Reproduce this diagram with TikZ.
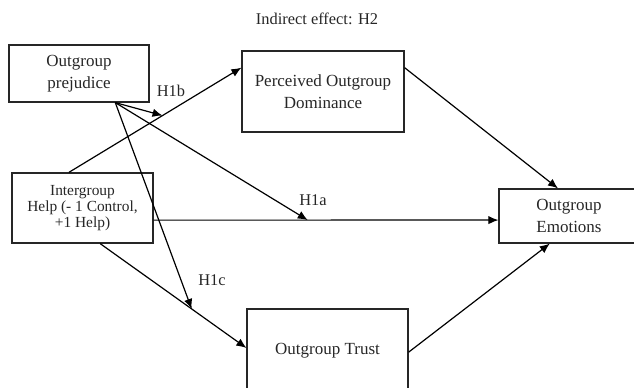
\documentclass[tikz,border=0pt]{standalone}
\usepackage{fontspec}
\setmainfont{Liberation Serif}
\usetikzlibrary{calc,arrows.meta}
\begin{document}
\begin{tikzpicture}[x=0.5pt,y=-0.5pt,
  box/.style={draw=black!85,line width=0.6pt,inner sep=0pt,align=center,font=\fontsize{8.5}{10.75}\selectfont,text=black!85},
  conn/.style={line width=0.6pt,-{Latex[length=5pt,width=4.2pt]}},
  lbl/.style={font=\fontsize{8.2}{10}\selectfont,text=black!85,inner sep=0pt}]
\useasboundingbox (0,0) rectangle (634,387);
\clip (0,0) rectangle (634,387);
\node[box,minimum width=70pt,minimum height=28.5pt] (prej) at (79,73.5) {Outgroup\\prejudice};
\node[box,minimum width=70.5pt,minimum height=35pt,font=\fontsize{7.7}{7.9}\selectfont] (help) at (82.5,208) {Intergroup\\Help (- 1 Control,\\+1 Help)};
\node[box,minimum width=81pt,minimum height=40.5pt] (dom) at (323,91.5) {Perceived Outgroup\\Dominance};
\node[box,minimum width=70pt,minimum height=27pt] (emo) at (569,216) {Outgroup\\Emotions};
\node[box,minimum width=80.5pt,minimum height=41.5pt] (trust) at (327.5,350.5) {Outgroup Trust};
\node[lbl] (title) at (317,19) {Indirect effect: H2};
\node[lbl] (lb) at (171,91) {H1b};
\node[lbl] (la) at (313,200) {H1a};
\node[lbl] (lc) at (212,280) {H1c};
% anchor points
\coordinate (hd1) at ($(help.north west)!0.404!(help.north east)$);
\coordinate (hd2) at ($(dom.north west)!0.21!(dom.south west)$);
\coordinate (ht1) at ($(help.south west)!0.624!(help.south east)$);
\coordinate (ht2) at ($(trust.north west)!0.47!(trust.south west)$);
\coordinate (he1) at ($(help.north east)!0.67!(help.south east)$);
\coordinate (he2) at ($(emo.north west)!0.574!(emo.south west)$);
\coordinate (de1) at ($(dom.north east)!0.21!(dom.south east)$);
\coordinate (de2) at ($(emo.north west)!0.422!(emo.north east)$);
\coordinate (te1) at ($(trust.north east)!0.52!(trust.south east)$);
\coordinate (te2) at ($(emo.south west)!0.364!(emo.south east)$);
\coordinate (p0) at ($(prej.south west)!0.757!(prej.south east)$);
\coordinate (mb) at ($(hd1)!0.543!(hd2)$);
\coordinate (ma) at ($(he1)!0.447!(he2)$);
\coordinate (mc) at ($(ht1)!0.626!(ht2)$);
% connectors
\draw[conn] (hd1) -- (hd2);
\draw[conn] (ht1) -- (ht2);
\draw[conn] (he1) -- (he2);
\draw[conn] (de1) -- (de2);
\draw[conn] (te1) -- (te2);
\draw[conn] (p0) -- (mb);
\draw[conn] (p0) -- (ma);
\draw[conn] (p0) -- (mc);
\end{tikzpicture}
\end{document}
